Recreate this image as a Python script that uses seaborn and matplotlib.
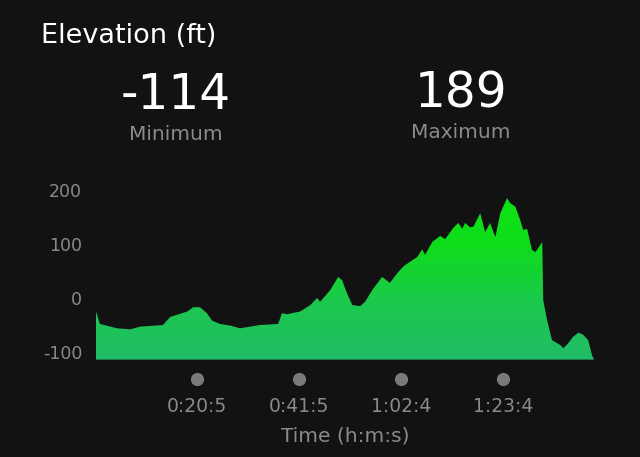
import numpy as np
import matplotlib
matplotlib.use("Agg")
import matplotlib.pyplot as plt
import matplotlib.transforms as mtransforms
from matplotlib.colors import LinearSegmentedColormap
import seaborn as sns
import pandas as pd

# ---- data (time in minutes, elevation in ft) ----
time_min = [0.2, 1.0, 4.5, 7.2, 9.2, 13.9, 15.4, 16.8, 18.9, 20.1, 21.5, 22.9, 24.0,
            25.6, 27.7, 29.7, 33.8, 37.5, 38.3, 39.3, 42.0, 44.1, 45.5, 46.1, 48.2,
            49.8, 50.6, 51.6, 52.7, 54.3, 55.3, 56.8, 58.8, 60.4, 61.9, 63.1, 64.5,
            66.0, 67.0, 67.6, 69.1, 70.7, 71.7, 73.4, 74.4, 75.2, 75.8, 76.8, 77.5,
            78.9, 79.9, 80.9, 82.0, 83.0, 84.4, 85.0, 86.1, 87.1, 87.7, 88.5, 89.5,
            90.2, 91.2, 91.6, 91.8, 92.6, 93.6, 95.3, 95.9, 96.9, 97.9, 99.0, 100.0,
            101.0, 101.8, 102.2]
elev_ft = [-25, -48, -56, -58, -53, -50, -35, -31, -25, -17, -17, -28, -42,
           -48, -51, -56, -50, -48, -28, -30, -25, -13, 0, -7, 15,
           39, 33, 9, -13, -15, -7, 15, 39, 28, 46, 58, 67,
           76, 90, 80, 104, 115, 109, 130, 139, 128, 139, 131, 132,
           157, 122, 139, 113, 157, 185, 176, 169, 144, 126, 128, 89,
           85, 98, 104, -4, -41, -78, -87, -93, -84, -72, -64, -68,
           -78, -106, -114]
tick_pos = [20.9, 41.8, 62.7, 83.6]
tick_labels = ["0:20:5", "0:41:5", "1:02:4", "1:23:4"]
y_ticks = [-100, 0, 100, 200]
title = "Elevation (ft)"
min_val, max_val = "-114", "189"

BG = "#121212"
GREY = "#8a8a8a"
FONT = ["DejaVu Sans"]

sns.set_theme(style="dark")
plt.rcParams["font.family"] = FONT

df = pd.DataFrame({"t": time_min, "e": elev_ft})

W, H = 640, 457
fig = plt.figure(figsize=(6.4, 4.57), dpi=100, facecolor=BG)
ax = fig.add_axes([96/W, 1-359.6/H, (594-96)/W, 175/H])
ax.set_facecolor(BG)

ymin, ymax = -114, 210
sns.lineplot(data=df, x="t", y="e", ax=ax, linewidth=0, color="#1ccf48")
poly = ax.fill_between(df["t"], df["e"], ymin, color="none", linewidth=0)

cmap = LinearSegmentedColormap.from_list("g", ["#22bc68", "#1cc84e", "#0fdc1c", "#0ee412"])
grad = np.linspace(0, 1, 256).reshape(-1, 1)
im = ax.imshow(grad, cmap=cmap, origin="lower", aspect="auto",
               extent=[time_min[0], time_min[-1], ymin, 200], zorder=2)
im.set_clip_path(poly.get_paths()[0], transform=ax.transData)

ax.set_xlim(time_min[0], time_min[-1])
ax.set_ylim(ymin, ymax)
for s in ax.spines.values():
    s.set_visible(False)
ax.grid(False)
ax.set_ylabel("")

ax.set_yticks(y_ticks)
ax.set_yticklabels([str(v) for v in y_ticks])
ax.tick_params(axis="y", length=0, pad=10, labelsize=12.5, labelcolor=GREY)
ax.set_xticks(tick_pos)
ax.set_xticklabels(tick_labels)
ax.tick_params(axis="x", length=0, pad=27, labelsize=13.5, labelcolor=GREY)

trans = mtransforms.blended_transform_factory(ax.transData, ax.transAxes)
ax.scatter(tick_pos, [(359.6-379)/175] * len(tick_pos), s=90, color="#7a7a7a",
           transform=trans, clip_on=False, linewidths=0, zorder=5)

ax.set_xlabel("Time (h:m:s)", color=GREY, fontsize=14.5, labelpad=7.5)

fig.text(41/W, 1-43.3/H, title, color="white", fontsize=19.5, ha="left", va="baseline")
fig.text(176/W, 1-109/H, min_val, color="white", fontsize=35, ha="center", va="baseline")
fig.text(461/W, 1-108/H, max_val, color="white", fontsize=35, ha="center", va="baseline")
fig.text(176/W, 1-139.5/H, "Minimum", color=GREY, fontsize=14.5, ha="center", va="baseline")
fig.text(461/W, 1-138.5/H, "Maximum", color=GREY, fontsize=14.5, ha="center", va="baseline")

fig.savefig("out.png", dpi=100, facecolor=BG)
